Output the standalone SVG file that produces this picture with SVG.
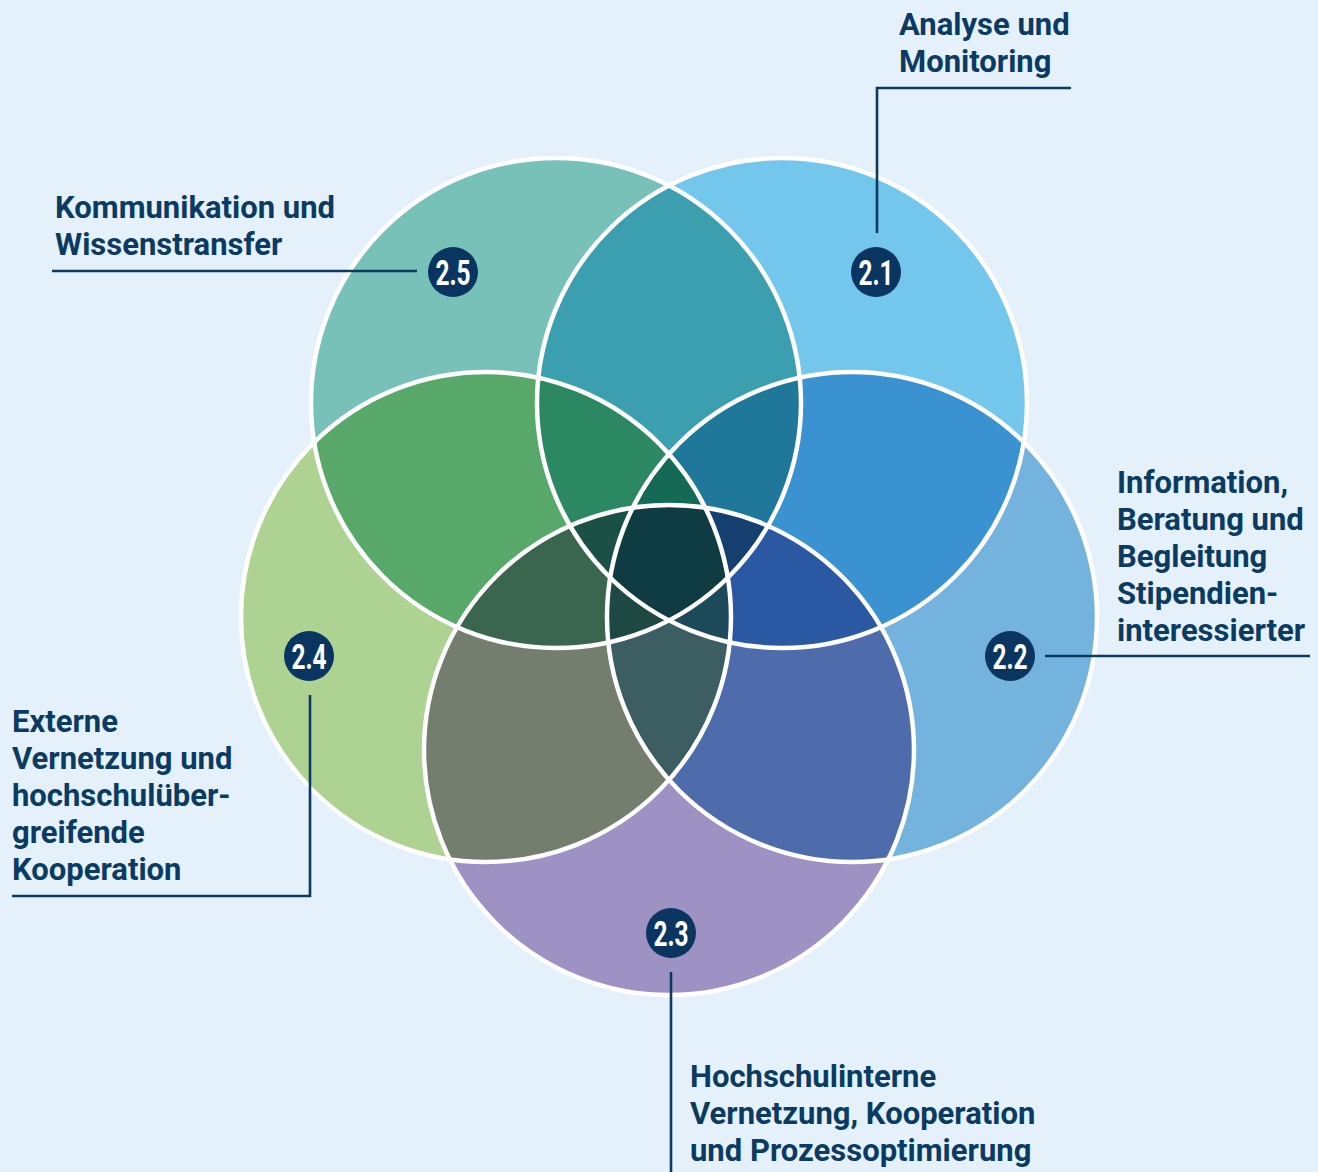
<svg xmlns="http://www.w3.org/2000/svg" width="1318" height="1172" viewBox="0 0 1318 1172">
<style>
.lbl{font-family:Roboto,"Liberation Sans",sans-serif;font-weight:700;font-size:31px;fill:#0B3A62}
.num{font-family:Roboto,"Liberation Sans",sans-serif;font-weight:700;font-size:35px;fill:#ffffff;text-anchor:middle}
.ln{fill:none;stroke:#0B3A62;stroke-width:2.6}
.bd{fill:#0A3560}
.ring{fill:none;stroke:#ffffff;stroke-width:4.5}
</style>
<defs>
<clipPath id="cA"><circle cx="782" cy="403" r="245"/></clipPath>
<clipPath id="cB"><circle cx="852" cy="617" r="245"/></clipPath>
<clipPath id="cC"><circle cx="669" cy="750" r="245"/></clipPath>
<clipPath id="cD"><circle cx="486" cy="617" r="245"/></clipPath>
<clipPath id="cE"><circle cx="556" cy="403" r="245"/></clipPath>
</defs>
<rect x="0" y="0" width="1318" height="1172" fill="#E4F1FB"/>
<g id="venn">
<!-- singles -->
<circle cx="782" cy="403" r="245" fill="#74C7EC"/>
<circle cx="852" cy="617" r="245" fill="#74B3DE"/>
<circle cx="669" cy="750" r="245" fill="#9D92C3"/>
<circle cx="486" cy="617" r="245" fill="#AED291"/>
<circle cx="556" cy="403" r="245" fill="#77C1B8"/>
<!-- pairs -->
<circle cx="782" cy="403" r="245" fill="#3B92D1" clip-path="url(#cB)"/>
<circle cx="852" cy="617" r="245" fill="#4E6CAC" clip-path="url(#cC)"/>
<circle cx="669" cy="750" r="245" fill="#737E6E" clip-path="url(#cD)"/>
<circle cx="486" cy="617" r="245" fill="#58A86A" clip-path="url(#cE)"/>
<circle cx="556" cy="403" r="245" fill="#3B9FAF" clip-path="url(#cA)"/>
<!-- triples -->
<g clip-path="url(#cA)"><circle cx="556" cy="403" r="245" fill="#2C8862" clip-path="url(#cD)"/></g>
<g clip-path="url(#cB)"><circle cx="782" cy="403" r="245" fill="#1F7899" clip-path="url(#cE)"/></g>
<g clip-path="url(#cC)"><circle cx="852" cy="617" r="245" fill="#2A58A3" clip-path="url(#cA)"/></g>
<g clip-path="url(#cD)"><circle cx="669" cy="750" r="245" fill="#3C5D62" clip-path="url(#cB)"/></g>
<g clip-path="url(#cE)"><circle cx="486" cy="617" r="245" fill="#3A6650" clip-path="url(#cC)"/></g>
<!-- quads -->
<g clip-path="url(#cB)"><g clip-path="url(#cD)"><circle cx="556" cy="403" r="245" fill="#146A55" clip-path="url(#cA)"/></g></g>
<g clip-path="url(#cC)"><g clip-path="url(#cE)"><circle cx="782" cy="403" r="245" fill="#143F6E" clip-path="url(#cB)"/></g></g>
<g clip-path="url(#cD)"><g clip-path="url(#cA)"><circle cx="852" cy="617" r="245" fill="#1D4A5B" clip-path="url(#cC)"/></g></g>
<g clip-path="url(#cE)"><g clip-path="url(#cB)"><circle cx="669" cy="750" r="245" fill="#1E4842" clip-path="url(#cD)"/></g></g>
<g clip-path="url(#cA)"><g clip-path="url(#cC)"><circle cx="486" cy="617" r="245" fill="#1B5046" clip-path="url(#cE)"/></g></g>
<!-- all five -->
<g clip-path="url(#cA)"><g clip-path="url(#cB)"><g clip-path="url(#cC)"><circle cx="486" cy="617" r="245" fill="#0E3C42" clip-path="url(#cE)"/></g></g></g>
<!-- white rings -->
<circle class="ring" cx="782" cy="403" r="245"/>
<circle class="ring" cx="852" cy="617" r="245"/>
<circle class="ring" cx="669" cy="750" r="245"/>
<circle class="ring" cx="486" cy="617" r="245"/>
<circle class="ring" cx="556" cy="403" r="245"/>
</g>
<g id="connectors">
<polyline class="ln" points="877,233 877,88 1071,88"/>
<line class="ln" x1="52" y1="271" x2="417" y2="271"/>
<line class="ln" x1="1045" y1="656" x2="1310" y2="656"/>
<polyline class="ln" points="310,695 310,896 12,896"/>
<line class="ln" x1="671" y1="972" x2="671" y2="1172"/>
</g>
<g id="n21">
<circle class="bd" cx="876" cy="272" r="25"/>
<text class="num" transform="translate(876,285) scale(0.7,1)">2.1</text>
<text class="lbl" x="899" y="35">Analyse und</text>
<text class="lbl" x="899" y="72">Monitoring</text>
</g>
<g id="n22">
<circle class="bd" cx="1010" cy="656" r="25"/>
<text class="num" transform="translate(1010,669) scale(0.7,1)">2.2</text>
<text class="lbl" x="1117" y="493">Information,</text>
<text class="lbl" x="1117" y="530">Beratung und</text>
<text class="lbl" x="1117" y="567">Begleitung</text>
<text class="lbl" x="1117" y="604">Stipendien-</text>
<text class="lbl" x="1117" y="641">interessierter</text>
</g>
<g id="n23">
<circle class="bd" cx="671" cy="933" r="25"/>
<text class="num" transform="translate(671,946) scale(0.7,1)">2.3</text>
<text class="lbl" x="690" y="1087">Hochschulinterne</text>
<text class="lbl" x="690" y="1124">Vernetzung, Kooperation</text>
<text class="lbl" x="690" y="1161">und Prozessoptimierung</text>
</g>
<g id="n24">
<circle class="bd" cx="309" cy="656" r="25"/>
<text class="num" transform="translate(309,669) scale(0.7,1)">2.4</text>
<text class="lbl" x="12" y="732">Externe</text>
<text class="lbl" x="12" y="769">Vernetzung und</text>
<text class="lbl" x="12" y="806">hochschulüber-</text>
<text class="lbl" x="12" y="843">greifende</text>
<text class="lbl" x="12" y="880">Kooperation</text>
</g>
<g id="n25">
<circle class="bd" cx="453" cy="272" r="25"/>
<text class="num" transform="translate(453,285) scale(0.7,1)">2.5</text>
<text class="lbl" x="55" y="218">Kommunikation und</text>
<text class="lbl" x="55" y="255">Wissenstransfer</text>
</g>
</svg>
